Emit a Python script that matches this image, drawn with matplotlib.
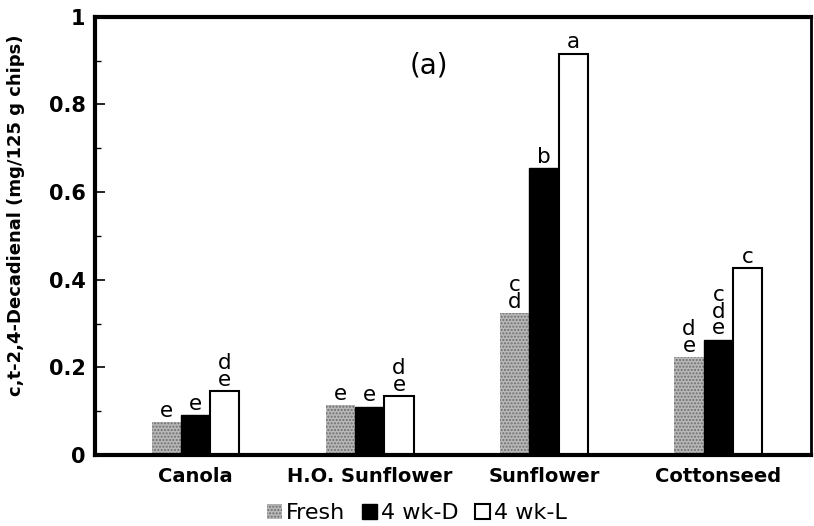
import numpy as np
import matplotlib.pyplot as plt
from matplotlib.ticker import MultipleLocator

plt.rcParams['font.family'] = ['DejaVu Sans']

oils = ['Canola', 'H.O. Sunflower', 'Sunflower', 'Cottonseed']
fresh = [0.075, 0.114, 0.324, 0.224]
wk4_dark = [0.091, 0.110, 0.655, 0.263]
wk4_light = [0.146, 0.135, 0.916, 0.427]

fresh_letters = ['e', 'e', 'c\nd', 'd\ne']
dark_letters = ['e', 'e', 'b', 'c\nd\ne']
light_letters = ['d\ne', 'd\ne', 'a', 'c']

fig = plt.figure(figsize=(8.14, 5.26), dpi=100)
ax = fig.add_axes([0.117, 0.135, 0.879, 0.833])

x = np.arange(len(oils))
w = 0.168

b1 = ax.bar(x - w, fresh, w, color='#b8b8b8', edgecolor='#6e6e6e', linewidth=0,
            hatch='.....', label='Fresh')
b2 = ax.bar(x, wk4_dark, w, color='black', edgecolor='black', linewidth=1, label='4 wk-D')
b3 = ax.bar(x + w, wk4_light, w, color='white', edgecolor='black', linewidth=1.5, label='4 wk-L')

# letras de significancia
for bars, labs in [(b1, fresh_letters), (b2, dark_letters), (b3, light_letters)]:
    for rect, lab in zip(bars, labs):
        ax.text(rect.get_x() + rect.get_width() / 2, rect.get_height() + 0.003, lab,
                ha='center', va='bottom', fontsize=15.5, linespacing=0.78)

ax.text(1.34, 0.89, '(a)', fontsize=20, ha='center', va='center')

ax.set_xlim(-0.575, 3.53)
ax.set_ylim(0, 1)
ax.set_xticks(x)
ax.set_xticklabels(oils, fontsize=14, fontweight='bold')
ax.tick_params(axis='x', length=0, pad=9)
ax.yaxis.set_minor_locator(MultipleLocator(0.1))
ax.set_yticks([0, 0.2, 0.4, 0.6, 0.8, 1.0])
ax.set_yticklabels(['0', '0.2', '0.4', '0.6', '0.8', '1'], fontsize=15, fontweight='bold')
ax.tick_params(axis='y', which='major', direction='in', length=7, width=1.2, pad=7)
ax.tick_params(axis='y', which='minor', direction='in', length=4, width=1)
ax.set_ylabel('c,t-2,4-Decadienal (mg/125 g chips)', fontsize=13, fontweight='bold', labelpad=14)
ax.yaxis.set_label_coords(-0.098, 0.548)

for side in ['left', 'bottom', 'top']:
    ax.spines[side].set_linewidth(3)
ax.spines['right'].set_linewidth(2)

fig.legend(loc='center', bbox_to_anchor=(0.512, 0.024), ncol=3, frameon=False,
           fontsize=16, handlelength=0.7, handleheight=0.7, handletextpad=0.15,
           columnspacing=0.75, borderaxespad=0)

fig.savefig('out.png', dpi=100)
